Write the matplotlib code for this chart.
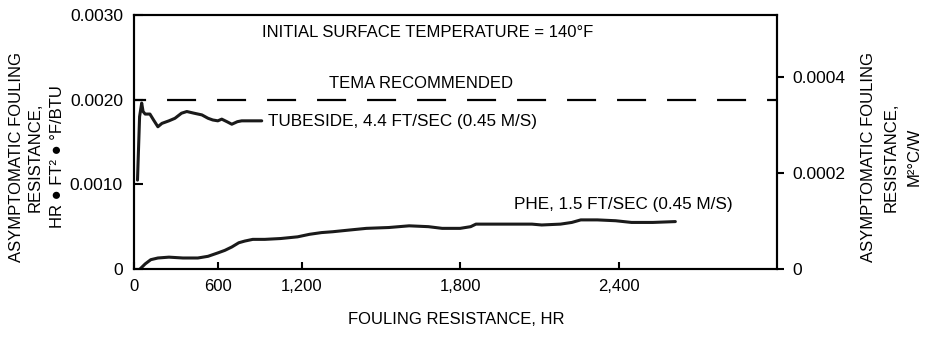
import matplotlib
matplotlib.use("Agg")
import matplotlib.pyplot as plt
import numpy as np

plt.rcParams['font.family'] = ['Liberation Sans', 'DejaVu Sans']
plt.rcParams['font.size'] = 12
plt.rcParams['lines.scale_dashes'] = False

# hours vs asymptotic fouling resistance (hr ft2 F/Btu)
tube_hr = [25, 40, 55, 65, 80, 114, 140, 171, 200, 250, 293, 340, 378, 430, 486,
           530, 564, 600, 628, 665, 700, 740, 771, 914]
tube_rf = [0.00105, 0.0018, 0.00196, 0.00186, 0.00183, 0.00183, 0.00176, 0.00168,
           0.00172, 0.00175, 0.00178, 0.00184, 0.00186, 0.00184, 0.00182, 0.00178,
           0.00176, 0.00175, 0.00177, 0.00174, 0.00171, 0.00174, 0.00175, 0.00175]

phe_hr = [43, 80, 120, 171, 250, 350, 457, 530, 600, 650, 700, 750, 793, 850, 936,
          1050, 1171, 1230, 1275, 1317, 1380, 1445, 1530, 1607, 1680, 1732, 1800,
          1840, 1860, 1947, 2072, 2109, 2180, 2223, 2257, 2320, 2389, 2449, 2530, 2615]
phe_rf = [0.0, 0.00006, 0.00011, 0.00013, 0.00014, 0.00013, 0.00013, 0.00015, 0.00019,
          0.00022, 0.00026, 0.00031, 0.00033, 0.00035, 0.00035, 0.00036, 0.00038,
          0.00041, 0.00043, 0.00044, 0.00046, 0.00048, 0.00049, 0.00051, 0.0005,
          0.00048, 0.00048, 0.0005, 0.00053, 0.00053, 0.00053, 0.00052, 0.00053,
          0.00055, 0.00058, 0.00058, 0.00057, 0.00055, 0.00055, 0.00056]

tema_rf = 0.002
x_ticks = [0, 600, 1200, 1800, 2400]
x_labels = ["0", "600", "1,200", "1,800", "2,400"]
y_ticks = [0, 0.001, 0.002, 0.003]
y_labels = ["0", "0.0010", "0.0020", "0.0030"]
si_ticks = [0, 0.0002, 0.0004]
si_labels = ["0", "0.0002", "0.0004"]
TO_SI = 0.1761  # hr ft2 F/Btu -> m2 C/W

# time axis is stretched after 1,200 hr
K = 1.89
def fwd(x):
    x = np.asarray(x, dtype=float)
    return np.where(x <= 1200, x, 1200 + K * (x - 1200))

def inv(y):
    y = np.asarray(y, dtype=float)
    return np.where(y <= 1200, y, 1200 + (y - 1200) / K)

fig = plt.figure(figsize=(9.29, 3.49), dpi=100)
ax = fig.add_axes([134 / 929, 1 - 269 / 349, 643 / 929, 254 / 349])
ax.set_xscale('function', functions=(fwd, inv))

ax.plot(tube_hr, tube_rf, color='#1a1a1a', lw=2.2, solid_capstyle='round')
ax.plot(phe_hr, phe_rf, color='#1a1a1a', lw=2.2, solid_capstyle='round')
ax.axhline(tema_rf, color='black', lw=1.6, linestyle=(12.2, (20.9, 15.1)))

ax.set_xlim(0, 3000)
ax.set_ylim(0, 0.003)
ax.set_xticks(x_ticks)
ax.set_xticklabels(x_labels)
ax.set_yticks(y_ticks)
ax.set_yticklabels(y_labels)
ax.xaxis.set_minor_locator(matplotlib.ticker.NullLocator())
ax.tick_params(axis='x', direction='in', length=5, width=1.5, pad=7, labelsize=12)
ax.tick_params(axis='y', direction='in', length=6.5, width=1.5, pad=8, labelsize=12.5)
for s in ax.spines.values():
    s.set_linewidth(1.5)

ax2 = ax.twinx()
ax2.set_ylim(0, 0.003 * TO_SI)
ax2.set_yticks(si_ticks)
ax2.set_yticklabels(si_labels)
ax2.tick_params(axis='y', direction='out', length=5, width=1.5, pad=6, labelsize=12.5)
for s in ax2.spines.values():
    s.set_linewidth(1.5)

ax.text(0.457, 0.933, "INITIAL SURFACE TEMPERATURE = 140°F", transform=ax.transAxes,
        ha='center', va='center')
ax.text(0.447, 0.732, "TEMA RECOMMENDED", transform=ax.transAxes,
        ha='center', va='center')
ax.text(957, 0.00174, "TUBESIDE, 4.4 FT/SEC (0.45 M/S)", ha='left', va='center',
        fontsize=12.3)
ax.text(2003, 0.000756, "PHE, 1.5 FT/SEC (0.45 M/S)", ha='left', va='center',
        fontsize=12.3)

fig.text(456 / 929, 1 - 320 / 349, "FOULING RESISTANCE, HR", ha='center', va='center')

# left axis title
for xpix, txt in [(17, "ASYMPTOMATIC FOULING"), (35, "RESISTANCE,"),
                  (58, "HR ● FT² ● °F/BTU")]:
    fig.text(xpix / 929, 1 - 157 / 349, txt, rotation=90, ha='center', va='center')

# right axis title
for xpix, txt in [(869, "ASYMPTOMATIC FOULING"), (891, "RESISTANCE,"), (914, "M²°C/W")]:
    fig.text(xpix / 929, 1 - 157 / 349, txt, rotation=90, ha='center', va='center')

fig.savefig("out.png", dpi=100)
